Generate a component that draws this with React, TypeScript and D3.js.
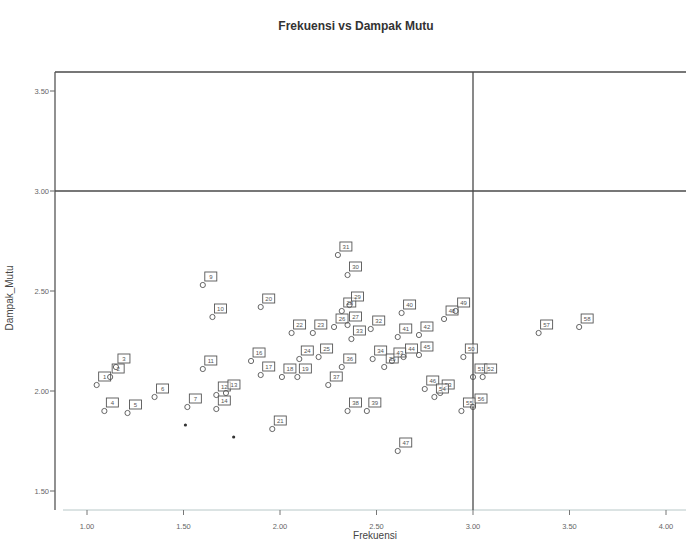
import React from "react";
import * as d3 from "d3";

// Mean frequency and mean quality impact per risk item, with case numbers
const frekuensi = [
  1.05, 1.12, 1.15, 1.09, 1.21, 1.35, 1.52, 1.51, 1.6, 1.65, 1.6, 1.67, 1.72, 1.67,
  1.76, 1.85, 1.9, 2.01, 2.09, 1.9, 1.96, 2.06, 2.17, 2.1, 2.2, 2.28, 2.35, 2.32,
  2.36, 2.35, 2.3, 2.47, 2.37, 2.48, 2.54, 2.32, 2.25, 2.35, 2.45, 2.63, 2.61, 2.72,
  2.58, 2.64, 2.72, 2.75, 2.61, 2.85, 2.91, 2.95, 3.0, 3.05, 2.83, 2.8, 2.94, 3.0,
  3.34, 3.55,
];
const dampakMutu = [
  2.03, 2.07, 2.12, 1.9, 1.89, 1.97, 1.92, 1.83, 2.53, 2.37, 2.11, 1.98, 1.99, 1.91,
  1.77, 2.15, 2.08, 2.07, 2.07, 2.42, 1.81, 2.29, 2.29, 2.16, 2.17, 2.32, 2.33, 2.4,
  2.43, 2.58, 2.68, 2.31, 2.26, 2.16, 2.12, 2.12, 2.03, 1.9, 1.9, 2.39, 2.27, 2.28,
  2.15, 2.17, 2.18, 2.01, 1.7, 2.36, 2.4, 2.17, 2.07, 2.07, 1.99, 1.97, 1.9, 1.92,
  2.29, 2.32,
];
const caseLabels: (string | null)[] = [
  "1", "2", "3", "4", "5", "6", "7", null, "9", "10", "11", "12", "13", "14",
  null, "16", "17", "18", "19", "20", "21", "22", "23", "24", "25", "26", "27", "28",
  "29", "30", "31", "32", "33", "34", "35", "36", "37", "38", "39", "40", "41", "42",
  "43", "44", "45", "46", "47", "48", "49", "50", "51", "52", "53", "54", "55", "56",
  "57", "58",
];
const xTicks = [1.0, 1.5, 2.0, 2.5, 3.0, 3.5, 4.0];
const yTicks = [1.5, 2.0, 2.5, 3.0, 3.5];
const refX = 3.0;
const refY = 3.0;

const W = 686;
const H = 542;
const left = 55;
const top = 72;
const bottom = 510;
const right = 700;

export default function App() {
  const x = d3.scaleLinear().domain([1, 3]).range([87, 473]);
  const y = d3.scaleLinear().domain([3, 2]).range([191, 391]);
  const fmt = d3.format(".2f");
  const pts = frekuensi.map((f, i) => ({ f, d: dampakMutu[i], lab: caseLabels[i] }));

  return (
    <svg
      width={W}
      height={H}
      style={{ position: "absolute", left: 0, top: 0, background: "#fff" }}
      fontFamily="Arial, 'Liberation Sans', sans-serif"
    >
      <text x={356} y={30} textAnchor="middle" fontSize={12} fontWeight="bold" fill="#333">
        Frekuensi vs Dampak Mutu
      </text>

      {/* frame */}
      <line x1={left} x2={right} y1={top} y2={top} stroke="#4a4a4a" strokeWidth={1.3} />
      <line x1={left} x2={left} y1={top} y2={bottom} stroke="#555" strokeWidth={1.3} />
      <line x1={left + 8} x2={right} y1={bottom} y2={bottom} stroke="#b8c8c8" strokeWidth={1} />

      {/* reference lines */}
      <line x1={left} x2={right} y1={y(refY)} y2={y(refY)} stroke="#4a4a4a" strokeWidth={1.3} />
      <line x1={x(refX)} x2={x(refX)} y1={top} y2={bottom} stroke="#4a4a4a" strokeWidth={1.3} />

      {/* y axis */}
      {yTicks.map((t) => (
        <g key={t}>
          <line x1={left - 5} x2={left} y1={y(t)} y2={y(t)} stroke="#666" />
          <text x={left - 6} y={y(t) + 3} textAnchor="end" fontSize={7.5} fill="#666">
            {fmt(t)}
          </text>
        </g>
      ))}
      <text
        transform={`translate(13,298) rotate(-90)`}
        textAnchor="middle"
        fontSize={10}
        fill="#444"
      >
        Dampak_Mutu
      </text>

      {/* x axis */}
      {xTicks.map((t) => (
        <g key={t}>
          <line x1={x(t)} x2={x(t)} y1={bottom} y2={bottom + 5} stroke="#777" />
          <text x={x(t)} y={529} textAnchor="middle" fontSize={7.5} fill="#666">
            {fmt(t)}
          </text>
        </g>
      ))}
      <text x={375} y={539} textAnchor="middle" fontSize={10} fill="#444">
        Frekuensi
      </text>

      {/* points with case labels */}
      {pts.map((p, i) => {
        const cx = x(p.f);
        const cy = y(p.d);
        if (!p.lab) {
          return <circle key={i} cx={cx} cy={cy} r={1.6} fill="#333" />;
        }
        return (
          <g key={i}>
            <circle cx={cx} cy={cy} r={2.6} fill="none" stroke="#555" strokeWidth={0.9} />
            <rect
              x={cx + 2}
              y={cy - 13}
              width={12}
              height={9}
              fill="#fff"
              fillOpacity={0.6}
              stroke="#555"
              strokeWidth={0.9}
            />
            <text x={cx + 8} y={cy - 6.3} textAnchor="middle" fontSize={6} fill="#555">
              {p.lab}
            </text>
          </g>
        );
      })}
    </svg>
  );
}
